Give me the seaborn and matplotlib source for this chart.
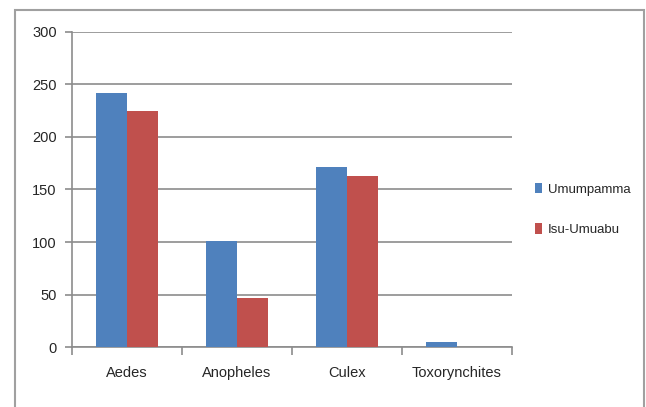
import pandas as pd
import matplotlib.pyplot as plt
import matplotlib.patches as mpatches
import seaborn as sns

# Mosquito counts per genus at the two sites
genera = ["Aedes", "Anopheles", "Culex", "Toxorynchites"]
umumpamma = [242, 101, 171, 5]
isu_umuabu = [225, 47, 163, 0]
sites = ["Umumpamma", "Isu-Umuabu"]
colors = ["#4F81BD", "#C0504D"]

df = pd.DataFrame({
    "genus": genera * 2,
    "count": umumpamma + isu_umuabu,
    "site": [sites[0]] * len(genera) + [sites[1]] * len(genera),
})

sns.set_style("white")
plt.rcParams["font.family"] = ["Liberation Sans", "DejaVu Sans"]

fig = plt.figure(figsize=(6.46, 4.07), dpi=100)
ax = fig.add_axes([0.1115, 0.1474, 0.681, 0.774])

sns.barplot(data=df, x="genus", y="count", hue="site", palette=colors,
            width=0.56, gap=0, saturation=1, linewidth=0, ax=ax, legend=True,
            zorder=3)

ax.set_ylim(0, 300)
ax.set_xlim(-0.5, 3.5)
ax.set_yticks(range(0, 301, 50))
ax.yaxis.grid(True, color="#8c8c8c", linewidth=1.2, zorder=0)
ax.set_axisbelow(True)
ax.set_xlabel("")
ax.set_ylabel("")

for side in ["top", "right"]:
    ax.spines[side].set_visible(False)
for side in ["left", "bottom"]:
    ax.spines[side].set_color("#8c8c8c")
    ax.spines[side].set_linewidth(1.2)

ax.tick_params(axis="y", left=True, length=5, width=1.2, color="#8c8c8c",
               labelsize=10.5, pad=6)
ax.tick_params(axis="x", which="major", length=0, labelsize=10.5, pad=14)
ax.set_xticks([-0.5, 0.5, 1.5, 2.5, 3.5], minor=True)
ax.tick_params(axis="x", which="minor", bottom=True, length=6, width=1.2,
               color="#8c8c8c")

ax.legend(title=None, frameon=False, loc="center left",
          bbox_to_anchor=(0.81, 0.485), bbox_transform=fig.transFigure,
          fontsize=9.5, handlelength=0.55, handleheight=0.8, handletextpad=0.4,
          labelspacing=2.1)

# outer chart border
fig.patches.append(mpatches.Rectangle((0.0232, -0.01), 0.974, 0.985,
                                      transform=fig.transFigure, fill=False,
                                      edgecolor="#a0a0a0", linewidth=1.5))

fig.savefig("out.png", dpi=100)
